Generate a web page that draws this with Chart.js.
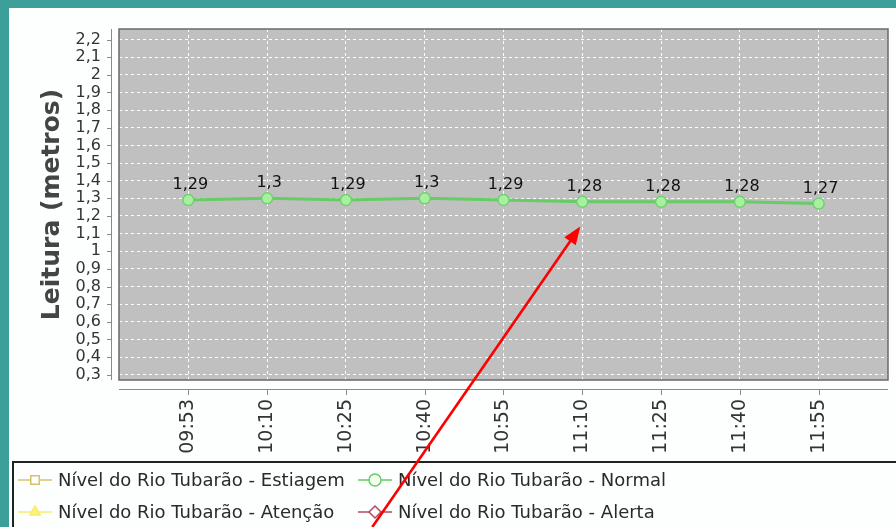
<!DOCTYPE html>
<html>
<head>
<meta charset="utf-8">
<script src="https://cdn.jsdelivr.net/npm/chart.js@4.4.0/dist/chart.umd.min.js"></script>
<style>
  body { margin: 0; background: #fff; }
  canvas { display: block; }
</style>
</head>
<body>
<canvas id="nivelChart" width="896" height="527"></canvas>
<script>
// leituras do nivel do rio
var horarios = ["09:53", "10:10", "10:25", "10:40", "10:55", "11:10", "11:25", "11:40", "11:55"];
var nivelNormal = [1.29, 1.3, 1.29, 1.3, 1.29, 1.28, 1.28, 1.28, 1.27];
var nivelEstiagem = [];
var nivelAtencao = [];
var nivelAlerta = [];
var yTicks = [0.3, 0.4, 0.5, 0.6, 0.7, 0.8, 0.9, 1, 1.1, 1.2, 1.3, 1.4, 1.5, 1.6, 1.7, 1.8, 1.9, 2, 2.1, 2.2];
var yMin = 0.27, yMax = 2.26;

function virgula(v) {
  return String(Math.round(v * 100) / 100).replace(".", ",");
}
function pontos(valores) {
  return valores.map(function (v, i) { return {x: i, y: v}; });
}

// moldura, fundo do grafico e eixos deslocados
var fundo = {
  id: "fundo",
  beforeDraw: function (chart) {
    var ctx = chart.ctx, a = chart.chartArea;
    ctx.save();
    ctx.fillStyle = "#3c9f9a";
    ctx.fillRect(0, 0, chart.width, chart.height);
    ctx.fillStyle = "#fdfefe";
    ctx.fillRect(9, 8, chart.width - 9, chart.height - 8);
    ctx.fillStyle = "#c0c0c0";
    ctx.fillRect(a.left, a.top, a.right - a.left, a.bottom - a.top);
    ctx.restore();
  },
  afterDatasetsDraw: function (chart) {
    var ctx = chart.ctx, a = chart.chartArea;
    var xs = chart.scales.x, ys = chart.scales.y;
    ctx.save();
    ctx.strokeStyle = "#6a6a6a";
    ctx.lineWidth = 1.5;
    ctx.strokeRect(a.left, a.top, a.right - a.left, a.bottom - a.top);
    ctx.strokeStyle = "#8a8a8a";
    ctx.lineWidth = 1;
    ctx.beginPath();
    ctx.moveTo(a.left - 7.5, a.top);
    ctx.lineTo(a.left - 7.5, a.bottom);
    yTicks.forEach(function (v) {
      var y = Math.round(ys.getPixelForValue(v)) + 0.5;
      ctx.moveTo(a.left - 7.5, y);
      ctx.lineTo(a.left - 12, y);
    });
    ctx.moveTo(a.left, a.bottom + 9.5);
    ctx.lineTo(a.right, a.bottom + 9.5);
    horarios.forEach(function (h, i) {
      var x = Math.round(xs.getPixelForValue(i)) + 0.5;
      ctx.moveTo(x, a.bottom + 9.5);
      ctx.lineTo(x, a.bottom + 15);
    });
    ctx.stroke();

    // rotulos dos valores
    ctx.fillStyle = "#111";
    ctx.font = "16px 'DejaVu Sans'";
    ctx.textAlign = "center";
    ctx.textBaseline = "bottom";
    var meta = chart.getDatasetMeta(1);
    meta.data.forEach(function (p, i) {
      ctx.fillText(virgula(nivelNormal[i]), p.x + 2, p.y - 7);
    });
    ctx.restore();
  },
  afterDraw: function (chart) {
    var ctx = chart.ctx;
    ctx.save();
    // caixa da legenda
    ctx.strokeStyle = "#222";
    ctx.lineWidth = 2;
    ctx.beginPath();
    ctx.moveTo(chart.width, 462);
    ctx.lineTo(13, 462);
    ctx.lineTo(13, chart.height);
    ctx.stroke();
    var pos = [[18, 480], [358, 480], [18, 512], [358, 512]];
    ctx.font = "18px 'DejaVu Sans'";
    ctx.textBaseline = "middle";
    chart.data.datasets.forEach(function (ds, i) {
      var x = pos[i][0], y = pos[i][1];
      ctx.strokeStyle = ds.borderColor;
      ctx.lineWidth = 1.5;
      ctx.beginPath();
      ctx.moveTo(x, y);
      ctx.lineTo(x + 34, y);
      ctx.stroke();
      ctx.fillStyle = ds.legendFill;
      ctx.strokeStyle = ds.borderColor;
      Chart.helpers.drawPoint(ctx, {pointStyle: ds.pointStyle, radius: 6, borderWidth: 1.5, rotation: 0}, x + 17, y);
      ctx.fillStyle = "#2a2a2a";
      ctx.fillText(ds.label, x + 40, y + 1);
    });
    // seta vermelha
    var tx = chart.scales.x.getPixelForValue(5) - 2;
    var ty = chart.scales.y.getPixelForValue(1.14);
    var sx = tx - 208, sy = chart.height;
    var ang = Math.atan2(ty - sy, tx - sx);
    ctx.strokeStyle = "#ff0000";
    ctx.fillStyle = "#ff0000";
    ctx.lineWidth = 2.6;
    ctx.beginPath();
    ctx.moveTo(sx, sy);
    ctx.lineTo(tx - 12 * Math.cos(ang), ty - 12 * Math.sin(ang));
    ctx.stroke();
    ctx.beginPath();
    ctx.moveTo(tx, ty);
    ctx.lineTo(tx - 18 * Math.cos(ang) + 7 * Math.sin(ang), ty - 18 * Math.sin(ang) - 7 * Math.cos(ang));
    ctx.lineTo(tx - 18 * Math.cos(ang) - 7 * Math.sin(ang), ty - 18 * Math.sin(ang) + 7 * Math.cos(ang));
    ctx.closePath();
    ctx.fill();
    ctx.restore();
  }
};

new Chart("nivelChart", {
  type: "line",
  data: {
    datasets: [{
      label: "Nível do Rio Tubarão - Estiagem",
      data: pontos(nivelEstiagem),
      borderColor: "#d4c36a",
      backgroundColor: "#ffffff",
      legendFill: "#ffffff",
      pointStyle: "rect"
    }, {
      label: "Nível do Rio Tubarão - Normal",
      data: pontos(nivelNormal),
      borderColor: "#66cc66",
      backgroundColor: "#a8f0a0",
      legendFill: "#f4fff2",
      borderWidth: 3,
      pointStyle: "circle",
      pointRadius: 5.5,
      pointBorderWidth: 1.5,
      pointBorderColor: "#70d070",
      tension: 0
    }, {
      label: "Nível do Rio Tubarão - Atenção",
      data: pontos(nivelAtencao),
      borderColor: "#f4ee6a",
      backgroundColor: "#fbf27a",
      legendFill: "#fbf27a",
      pointStyle: "triangle"
    }, {
      label: "Nível do Rio Tubarão - Alerta",
      data: pontos(nivelAlerta),
      borderColor: "#b5485c",
      backgroundColor: "#ffffff",
      legendFill: "#ffffff",
      pointStyle: "rectRot"
    }]
  },
  options: {
    responsive: false,
    animation: false,
    layout: {padding: {top: 29, right: 8, bottom: 0, left: 0}},
    plugins: {legend: {display: false}, tooltip: {enabled: false}},
    scales: {
      x: {
        type: "linear",
        min: -0.88,
        max: 8.88,
        afterBuildTicks: function (s) { s.ticks = horarios.map(function (h, i) { return {value: i}; }); },
        afterFit: function (s) { s.height = 147; },
        grid: {color: "#ffffff", lineWidth: 1, drawTicks: false},
        border: {display: false, dash: [3, 3]},
        ticks: {
          autoSkip: false,
          minRotation: 90,
          maxRotation: 90,
          padding: 19,
          color: "#333",
          font: {family: "DejaVu Sans", size: 19},
          callback: function (v) { return horarios[v]; }
        }
      },
      y: {
        min: yMin,
        max: yMax,
        afterBuildTicks: function (s) { s.ticks = yTicks.map(function (v) { return {value: v}; }); },
        afterFit: function (s) { s.width = 119; },
        grid: {color: "#ffffff", lineWidth: 1, drawTicks: false},
        border: {display: false, dash: [3, 3]},
        ticks: {
          autoSkip: false,
          padding: 18,
          color: "#333",
          font: {family: "DejaVu Sans", size: 16},
          callback: function (v) { return virgula(v); }
        },
        title: {
          display: true,
          text: "Leitura (metros)",
          color: "#444",
          padding: {top: 37, bottom: 0},
          font: {family: "DejaVu Sans", size: 25, weight: "bold"}
        }
      }
    }
  },
  plugins: [fundo]
});
</script>
</body>
</html>
